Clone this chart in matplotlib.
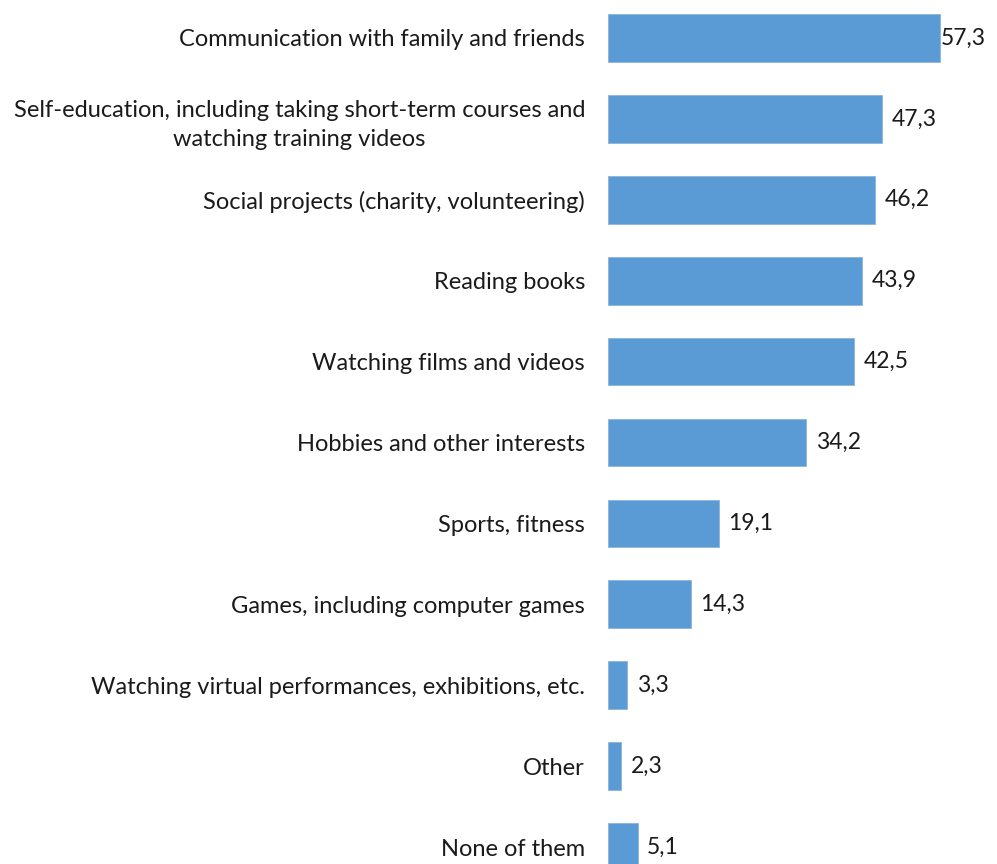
import matplotlib.pyplot as plt

# Leisure activities and share of respondents (%)
categories = [
    "Communication with family and friends",
    "Self-education, including taking short-term courses and\nwatching training videos",
    "Social projects (charity, volunteering)",
    "Reading books",
    "Watching films and videos",
    "Hobbies and other interests",
    "Sports, fitness",
    "Games, including computer games",
    "Watching virtual performances, exhibitions, etc.",
    "Other",
    "None of them",
]
values = [57.3, 47.3, 46.2, 43.9, 42.5, 34.2, 19.1, 14.3, 3.3, 2.3, 5.1]

plt.rcParams['font.family'] = ['Lato', 'DejaVu Sans']

W, H = 997, 864
fig = plt.figure(figsize=(W / 100, H / 100), dpi=100)

# axes placed so the last bar runs off the bottom edge
left_px, top_px, bottom_px = 608, -2.5, 887.5
ax = fig.add_axes([left_px / W, 1 - bottom_px / H, 1 - left_px / W, (bottom_px - top_px) / H])

pos = list(range(len(categories)))
bars = ax.barh(pos, values, height=0.59, color='#5B9BD5', edgecolor='#8fb4d9', linewidth=0.6)
ax.set_ylim(len(categories) - 0.5, -0.5)
ax.set_xlim(0, 67.2)

ax.set_yticks(pos)
ax.set_yticklabels(categories, fontsize=17, color='#1a1a1a', linespacing=1.45)
for lbl in ax.get_yticklabels():
    lbl.set_multialignment('center')
ax.tick_params(axis='y', length=0, pad=16.5)
ax.set_xticks([])
for s in ax.spines.values():
    s.set_visible(False)

# value labels with comma decimals; keep the longest one inside the figure
limit = 65.3
for v, p in zip(values, pos):
    txt = f"{v:.1f}".replace('.', ',')
    if v > 55:
        ax.text(limit, p, txt, ha='right', va='center', fontsize=16.5, color='#1a1a1a')
    else:
        ax.annotate(txt, (v, p), xytext=(7, 0), textcoords='offset points',
                    ha='left', va='center', fontsize=16.5, color='#1a1a1a')

fig.savefig('out.png', dpi=100)
